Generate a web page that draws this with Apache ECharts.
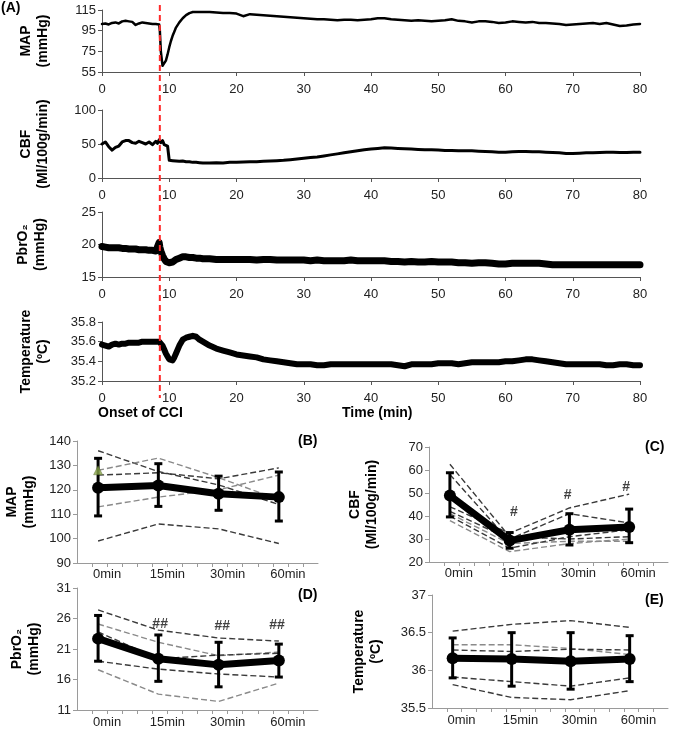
<!DOCTYPE html>
<html>
<head>
<meta charset="utf-8">
<script src="https://cdn.jsdelivr.net/npm/echarts@6/dist/echarts.min.js"></script>
<style>
html,body{margin:0;padding:0;background:#fff}
#main{width:675px;height:729px}
</style>
</head>
<body>
<div id="main"></div>
<script>
// (A) 连续记录: 时间 (min)
const timeA = [0,0.5,1,1.5,2,2.5,3,3.5,4,4.5,5,5.5,6,6.5,7,7.5,8,
  8.25,8.5,8.6,8.75,9,9.25,9.5,9.75,10,10.25,10.5,10.75,11,11.5,12,12.5,13,13.5,14,14.5,15,
  16,17,18,19,20,21,22,23,24,25,26,27,28,29,30,31,32,33,34,35,36,37,38,39,40,
  41,42,43,44,45,46,47,48,49,50,51,52,53,54,55,56,57,58,59,60,
  61,62,63,64,65,66,67,68,69,70,71,72,73,74,75,76,77,78,79,80];
const mapA = [101.5,102,101,102.5,103,102,104,104.5,104,103.5,100.5,102,103,102.5,102,101.5,101.5,
  101,101,95,75,61,62,66,72,79,85,90,94,98,103,107,110,112,113,113,113,113,
  113,112.5,112,112,111.5,109,111,110.5,110,109.5,109,108.5,108,107.5,107,106.5,106,106,105.5,105,105.5,105.5,105,105.5,106,
  107,107,106,105.5,105,104.5,105,104.5,104,104.5,105,106,104.5,104,103,104,104,103.5,102.5,103,
  104,103.5,103,103.5,102.5,102.5,102,101.5,100.5,101,101.5,102,102.5,101.5,102.5,101,99.5,100,101,101.5];
const cbfA = [50,53,46,41,45,47,53,55,55,52,51,54,52,50,53,49,54,
  51,56,58,52,55,49,50,47,26,25,25.5,25,25,24.5,25,24,24,23,23,22.5,22,
  22,22.5,22,23,23,23.5,24,24,24.5,25,25.5,26,27,28,29,30,31,32.5,34,35.5,37,38.5,40,41.5,42.5,
  43.5,44.5,44,43.5,43,42.5,42,41.5,41.5,41,40.5,40.5,40,40,40,39.5,39,38.5,38,38,
  38.5,39,39,38.5,38.5,38,37.5,37,36,36,36.5,37,37,37.5,38,38,37.5,37.5,38,38];
const pbro2A = [19.7,19.6,19.5,19.5,19.5,19.5,19.4,19.4,19.3,19.3,19.3,19.2,19.2,19.2,19.1,19.1,19.0,
  19.1,20.3,19.6,19.0,18.3,17.8,17.4,17.2,17.2,17.2,17.3,17.5,17.7,17.9,18.1,18.1,18.0,18.0,17.9,17.9,17.8,
  17.8,17.7,17.7,17.7,17.7,17.7,17.7,17.6,17.7,17.7,17.6,17.6,17.6,17.6,17.6,17.5,17.6,17.5,17.5,17.5,17.5,17.6,17.5,17.5,17.5,
  17.5,17.5,17.4,17.4,17.3,17.4,17.3,17.3,17.4,17.3,17.3,17.3,17.2,17.2,17.1,17.2,17.2,17.1,17.0,17.0,
  17.1,17.1,17.1,17.1,17.1,17.0,16.9,16.9,16.9,16.9,16.9,16.9,16.9,16.9,16.9,16.9,16.9,16.9,16.9,16.9];
const tempA = [35.57,35.56,35.55,35.57,35.58,35.57,35.58,35.58,35.59,35.59,35.59,35.59,35.60,35.60,35.60,35.60,35.60,
  35.60,35.60,35.60,35.59,35.56,35.52,35.48,35.45,35.42,35.40,35.41,35.44,35.48,35.56,35.62,35.64,35.65,35.66,35.65,35.62,35.60,
  35.56,35.53,35.51,35.49,35.47,35.46,35.45,35.44,35.42,35.41,35.40,35.39,35.38,35.37,35.37,35.37,35.36,35.36,35.37,35.37,35.37,35.37,35.37,35.37,35.37,
  35.37,35.37,35.37,35.36,35.35,35.37,35.37,35.37,35.37,35.38,35.38,35.38,35.37,35.38,35.39,35.39,35.39,35.39,35.39,35.40,
  35.40,35.41,35.42,35.42,35.41,35.40,35.39,35.38,35.37,35.37,35.37,35.37,35.37,35.37,35.36,35.36,35.37,35.37,35.36,35.36];
const onsetCCI = 8.6;

// (B)-(E) 分组: 时间点
const timeLabels = ['0min','15min','30min','60min'];
const catX = [0.35,1.35,2.35,3.35];

// (B) MAP
const mapMean = [120.8,121.8,118.4,117.0];
const mapLow = [109.3,113.2,111.6,107.2];
const mapHigh = [132.9,130.7,125.6,127.3];
const mapSubjects = [
  [136,127.5,122,114],
  [128,133,125,116],
  [126,127,124.5,129],
  [122,122,119,117],
  [113,117,120,126],
  [99,106,104,98]
];
const mapShade = ['#3a3a3a','#8a8a8a','#3a3a3a','#3a3a3a','#8a8a8a','#3a3a3a'];
const mapTriangle = [[0.35,128]];

// (C) CBF
const cbfMean = [48.9,29.3,34.0,35.2];
const cbfLow = [39.6,26.0,27.4,28.4];
const cbfHigh = [58.8,32.8,41.0,43.0];
const cbfSubjects = [
  [62.5,31,30,31],
  [58,29,33,36],
  [44,32.5,43.5,49.5],
  [42,30,41,37],
  [41,28,29,29],
  [40,26,31,34],
  [38,24.5,28,30]
];
const cbfShade = ['#3a3a3a','#3a3a3a','#3a3a3a','#3a3a3a','#8a8a8a','#3a3a3a','#8a8a8a'];
const cbfMarks = [[1.42,41.5],[2.32,49],[3.3,52.5]];

// (D) PbrO2
const pbMean = [22.7,19.4,18.4,19.1];
const pbLow = [19.0,15.7,14.8,16.4];
const pbHigh = [26.5,23.3,22.1,21.8];
const pbSubjects = [
  [27.4,24.1,22.8,22.3],
  [25.1,22.1,19.9,20.5],
  [23.8,19.4,20.0,20.3],
  [19.0,17.7,16.9,16.4],
  [17.6,13.6,12.4,15.4]
];
const pbShade = ['#3a3a3a','#8a8a8a','#3a3a3a','#3a3a3a','#8a8a8a'];
const pbMarks = [[1.38,25.1],[2.41,24.8],[3.32,24.9]];

// (E) Temperature
const tMean = [36.16,36.15,36.12,36.15];
const tLow = [35.90,35.79,35.75,35.85];
const tHigh = [36.43,36.50,36.50,36.46];
const tSubjects = [
  [36.52,36.61,36.66,36.57],
  [36.34,36.34,36.29,36.21],
  [36.27,36.25,36.28,36.27],
  [35.91,35.85,35.79,35.90],
  [35.81,35.64,35.61,35.73]
];
const tShade = ['#3a3a3a','#8a8a8a','#3a3a3a','#3a3a3a','#3a3a3a'];

const FONT = 'Liberation Sans, DejaVu Sans, sans-serif';
const nameStyle = {fontFamily: FONT, fontWeight: 'bold', fontSize: 14, lineHeight: 17, color: '#000'};
const labStyle = {fontFamily: FONT, fontSize: 13, color: '#222'};

let myChart = echarts.init(document.getElementById('main'), null, {renderer: 'canvas'});

// 上面四个小图
const gridsA = [
  {left: 102, width: 538, top: 10, height: 62},
  {left: 102, width: 538, top: 110, height: 68},
  {left: 102, width: 538, top: 212, height: 65},
  {left: 102, width: 538, top: 322, height: 59}
];
const gridsLow = [
  {left: 77, width: 241, top: 441, height: 122},
  {left: 429, width: 239, top: 447, height: 115},
  {left: 77, width: 241, top: 588, height: 122},
  {left: 432, width: 236, top: 595, height: 113}
];

function xAxisA(gi) {
  return {
    gridIndex: gi, type: 'value', min: 0, max: 80, interval: 10,
    axisLine: {lineStyle: {color: '#555', width: 1}},
    axisTick: {show: true, length: 4, lineStyle: {color: '#555'}},
    axisLabel: Object.assign({margin: 11}, labStyle),
    splitLine: {show: false}
  };
}
function yAxisA(gi, min, max, interval, name, gap) {
  return {
    gridIndex: gi, type: 'value', min: min, max: max, interval: interval,
    name: name, nameLocation: 'middle', nameRotate: 90, nameGap: gap, nameTextStyle: nameStyle,
    axisLine: {show: true, lineStyle: {color: '#555', width: 1}},
    axisTick: {show: true, length: 4, lineStyle: {color: '#555'}},
    axisLabel: Object.assign({margin: 6}, labStyle),
    splitLine: {show: false}
  };
}
function xAxisLow(gi, margin) {
  return {
    gridIndex: gi, type: 'value', min: 0, max: 4, interval: 0.25,
    axisLine: {lineStyle: {color: '#9a9a9a', width: 1}},
    axisTick: {show: true, length: 4, lineStyle: {color: '#9a9a9a'}},
    axisLabel: Object.assign({
      margin: margin, showMinLabel: false, showMaxLabel: false,
      formatter: function (v) {
        const k = Math.round(v * 4);
        return k % 4 === 2 ? timeLabels[(k - 2) / 4] : '';
      }
    }, labStyle),
    splitLine: {show: false}
  };
}
function yAxisLow(gi, min, max, interval, name, gap) {
  return {
    gridIndex: gi, type: 'value', min: min, max: max, interval: interval,
    name: name, nameLocation: 'middle', nameRotate: 90, nameGap: gap, nameTextStyle: nameStyle,
    axisLine: {show: true, lineStyle: {color: '#9a9a9a', width: 1}},
    axisTick: {show: true, length: 4, lineStyle: {color: '#9a9a9a'}},
    axisLabel: Object.assign({margin: 6}, labStyle),
    splitLine: {show: false}
  };
}

function traceA(gi, vals, width) {
  return {
    type: 'line', xAxisIndex: gi, yAxisIndex: gi, symbol: 'none', silent: true,
    data: timeA.map((t, i) => [t, vals[i]]),
    lineStyle: {color: '#000', width: width, join: 'round', cap: 'round'}
  };
}
function subjectLines(gi, subjects, shades) {
  return subjects.map((s, k) => ({
    type: 'line', xAxisIndex: gi, yAxisIndex: gi, symbol: 'none', silent: true, z: 2,
    data: catX.map((x, i) => [x, s[i]]),
    lineStyle: {color: shades[k], width: 1.4, type: [6, 3]}
  }));
}
function meanLine(gi, mean) {
  return {
    type: 'line', xAxisIndex: gi, yAxisIndex: gi, z: 4, silent: true,
    symbol: 'circle', symbolSize: 12,
    data: catX.map((x, i) => [x, mean[i]]),
    itemStyle: {color: '#000'},
    lineStyle: {color: '#000', width: 7}
  };
}
function errorBars(gi, low, high) {
  return {
    type: 'custom', xAxisIndex: gi, yAxisIndex: gi, z: 5, silent: true,
    data: catX.map((x, i) => [x, low[i], high[i]]),
    renderItem: function (params, api) {
      const top = api.coord([api.value(0), api.value(2)]);
      const bot = api.coord([api.value(0), api.value(1)]);
      const w = 4;
      const st = {stroke: '#000', lineWidth: 3};
      return {type: 'group', children: [
        {type: 'line', shape: {x1: top[0], y1: top[1], x2: bot[0], y2: bot[1]}, style: st},
        {type: 'line', shape: {x1: top[0] - w, y1: top[1], x2: top[0] + w, y2: top[1]}, style: st},
        {type: 'line', shape: {x1: bot[0] - w, y1: bot[1], x2: bot[0] + w, y2: bot[1]}, style: st}
      ]};
    }
  };
}
function markText(gi, pts, txt) {
  return {
    type: 'scatter', xAxisIndex: gi, yAxisIndex: gi, symbolSize: 0, silent: true, z: 6,
    data: pts,
    label: {show: true, position: 'inside', formatter: txt,
      fontFamily: FONT, fontWeight: 'bold', fontSize: 14, color: '#111'}
  };
}

const panelText = (txt, x, y, align) => ({
  type: 'text', left: x, top: y,
  style: {text: txt, font: 'bold 14px ' + FONT, fill: '#000', textAlign: align || 'left'}
});

let option = {
  animation: false,
  grid: gridsA.concat(gridsLow),
  xAxis: [xAxisA(0), xAxisA(1), xAxisA(2), xAxisA(3),
    xAxisLow(4, 5), xAxisLow(5, 5), xAxisLow(6, 6), xAxisLow(7, 6)],
  yAxis: [
    yAxisA(0, 55, 115, 20, 'MAP\n(mmHg)', 50),
    yAxisA(1, 0, 100, 50, 'CBF\n(Ml/100g/min)', 50),
    yAxisA(2, 15, 25, 5, 'PbrO\u2082\n(mmHg)', 53),
    yAxisA(3, 35.2, 35.8, 0.2, 'Temperature\n(\u00baC)', 50),
    yAxisLow(4, 90, 140, 10, 'MAP\n(mmHg)', 39),
    yAxisLow(5, 20, 70, 10, 'CBF\n(Ml/100g/min)', 48),
    yAxisLow(6, 11, 31, 5, 'PbrO\u2082\n(mmHg)', 34),
    yAxisLow(7, 35.5, 37, 0.5, 'Temperature\n(\u00baC)', 47)
  ],
  series: [
    traceA(0, mapA, 2.5),
    traceA(1, cbfA, 3),
    traceA(2, pbro2A, 7),
    traceA(3, tempA, 6)
  ].concat(
    subjectLines(4, mapSubjects, mapShade),
    [meanLine(4, mapMean), errorBars(4, mapLow, mapHigh),
     {type: 'scatter', xAxisIndex: 4, yAxisIndex: 4, z: 6, silent: true, symbol: 'triangle', symbolSize: 9,
      data: mapTriangle, itemStyle: {color: '#8aa64a', borderColor: '#4f6228', borderWidth: 0.5}}],
    subjectLines(5, cbfSubjects, cbfShade),
    [meanLine(5, cbfMean), errorBars(5, cbfLow, cbfHigh), markText(5, cbfMarks, '#')],
    subjectLines(6, pbSubjects, pbShade),
    [meanLine(6, pbMean), errorBars(6, pbLow, pbHigh), markText(6, pbMarks, '##')],
    subjectLines(7, tSubjects, tShade),
    [meanLine(7, tMean), errorBars(7, tLow, tHigh)]
  ),
  graphic: [
    panelText('(A)', 1, 1),
    panelText('Onset of CCI', 98, 406),
    panelText('Time (min)', 342, 406),
    panelText('(B)', 298, 434),
    panelText('(C)', 645, 440),
    panelText('(D)', 298, 588),
    panelText('(E)', 645, 593)
  ]
};
myChart.setOption(option);

// 红色虚线: CCI 开始
const xOnset = myChart.convertToPixel({xAxisIndex: 0}, onsetCCI);
const yTop = myChart.convertToPixel({yAxisIndex: 0}, 115) - 5;
const yBot = myChart.convertToPixel({yAxisIndex: 3}, 35.2) + 17;
option.graphic.push({
  type: 'line', z: 10, silent: true,
  shape: {x1: xOnset, y1: yTop, x2: xOnset, y2: yBot},
  style: {stroke: '#ff2a2a', lineWidth: 2, lineDash: [6, 4]}
});
myChart.setOption({graphic: option.graphic});

window.addEventListener('resize', function () {
  myChart.resize();
});
</script>
</body>
</html>
